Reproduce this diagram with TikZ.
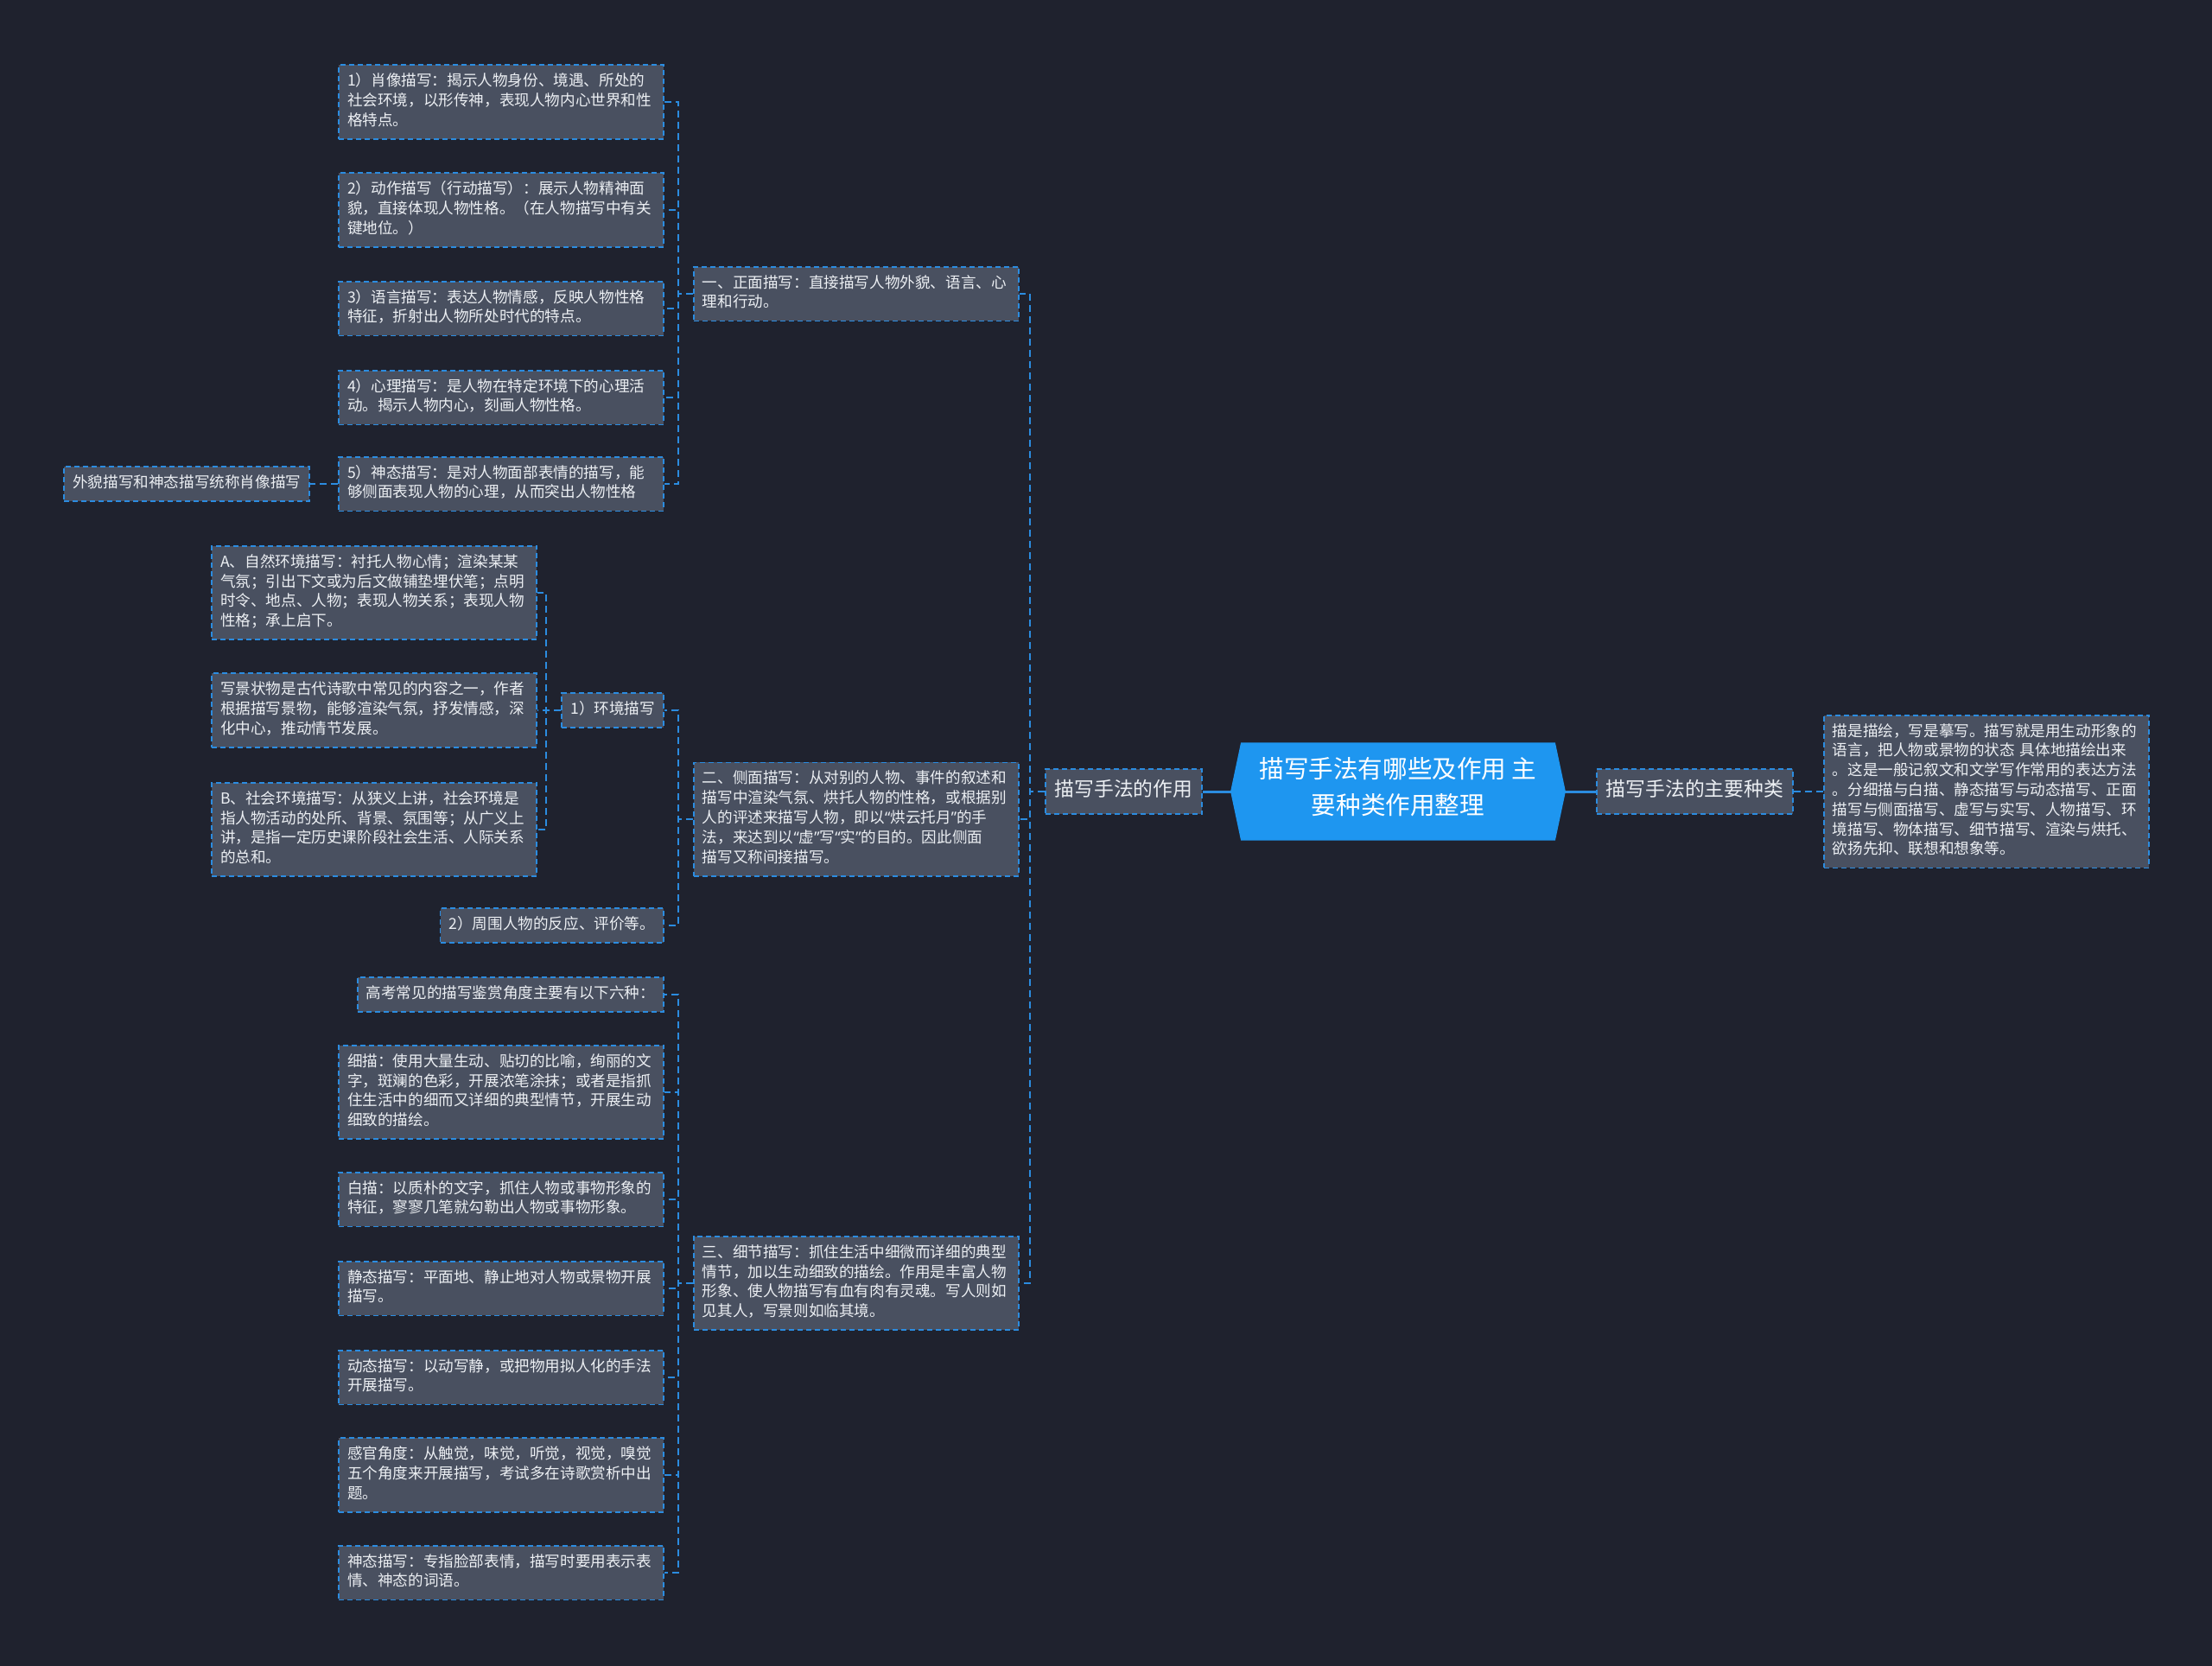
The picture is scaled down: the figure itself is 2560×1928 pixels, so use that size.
\documentclass[tikz,border=0pt]{standalone}
\usepackage{fontspec}
\setmainfont{Noto Sans CJK SC}
\newfontfamily\quotefont{Noto Sans}
\newcommand{\oq}{{\quotefont “}}
\newcommand{\cq}{{\quotefont ”}}
\usetikzlibrary{positioning,backgrounds}
\definecolor{mapbg}{RGB}{31,34,46}
\definecolor{cardgray}{RGB}{73,80,96}
\definecolor{wireblue}{RGB}{43,140,224}
\definecolor{topicblue}{RGB}{30,150,240}
\definecolor{inkwhite}{RGB}{236,239,243}

\begin{document}
\begin{tikzpicture}[x=0.5pt, y=-0.5pt,
  box/.style={draw=wireblue, dash pattern=on 3pt off 2pt, line width=0.9pt, fill=cardgray,
              text=inkwhite, inner xsep=5pt, inner ysep=4.3pt,
              font=\fontsize{8.8}{11.4}\selectfont,
              execute at begin node=\strut, execute at end node=\strut},
  card/.style={box, align=left, text width=178pt},
  chip/.style={box},
  branch/.style={box, font=\fontsize{11.4}{14}\selectfont, inner xsep=5.5pt, inner ysep=6pt},
  topic/.style={text=white, align=center, minimum width=181.5pt, inner ysep=8.5pt,
                font=\fontsize{14.3}{21}\selectfont,
                execute at begin node=\strut, execute at end node=\strut},
  wire/.style={draw=wireblue, line width=1pt, dash pattern=on 4pt off 2.5pt},
  trunk/.style={draw=wireblue, line width=1.5pt}]
% centre and first level
\node[topic] (top) at (1618,916) {描写手法有哪些及作用 主\\要种类作用整理};
\node[branch, left=22pt of top] (zy) {描写手法的作用};
\node[branch, right=23.5pt of top] (zl) {描写手法的主要种类};
\node[card, right=17pt of zl] (sm) {描是描绘，写是摹写。描写就是用生动形象的\\语言，把人物或景物的状态 具体地描绘出来\\。这是一般记叙文和文学写作常用的表达方法\\。分细描与白描、静态描写与动态描写、正面\\描写与侧面描写、虚写与实写、人物描写、环\\境描写、物体描写、细节描写、渲染与烘托、\\欲扬先抑、联想和想象等。};
% 一、正面描写
\node[card, anchor=west] (zm) at (802,340) {一、正面描写：直接描写人物外貌、语言、心\\理和行动。};
\node[card, anchor=east] (b1) at (769,118) {1）肖像描写：揭示人物身份、境遇、所处的\\社会环境，以形传神，表现人物内心世界和性\\格特点。};
\node[card, anchor=east] (b2) at (769,243) {2）动作描写（行动描写）：展示人物精神面\\貌，直接体现人物性格。（在人物描写中有关\\键地位。）};
\node[card, anchor=east] (b3) at (769,357) {3）语言描写：表达人物情感，反映人物性格\\特征，折射出人物所处时代的特点。};
\node[card, anchor=east] (b4) at (769,460) {4）心理描写：是人物在特定环境下的心理活\\动。揭示人物内心，刻画人物性格。};
\node[card, anchor=east] (b5) at (769,560) {5）神态描写：是对人物面部表情的描写，能\\够侧面表现人物的心理，从而突出人物性格};
\node[chip, left=16pt of b5] (wm) {外貌描写和神态描写统称肖像描写};
% 二、侧面描写
\node[card, anchor=west] (cm) at (802,948) {二、侧面描写：从对别的人物、事件的叙述和\\描写中渲染气氛、烘托人物的性格，或根据别\\人的评述来描写人物，即以\oq 烘云托月\cq 的手\\法，来达到以\oq 虚\cq 写\oq 实\cq 的目的。因此侧面\\描写又称间接描写。};
\node[chip, anchor=east] (hj) at (769,822) {1）环境描写};
\node[chip, anchor=east] (zw) at (769,1071) {2）周围人物的反应、评价等。};
\node[card, anchor=east] (na) at (622,686) {A、自然环境描写：衬托人物心情；渲染某某\\气氛；引出下文或为后文做铺垫埋伏笔；点明\\时令、地点、人物；表现人物关系；表现人物\\性格；承上启下。};
\node[card, anchor=east] (xs) at (622,822) {写景状物是古代诗歌中常见的内容之一，作者\\根据描写景物，能够渲染气氛，抒发情感，深\\化中心，推动情节发展。};
\node[card, anchor=east] (nb) at (622,960) {B、社会环境描写：从狭义上讲，社会环境是\\指人物活动的处所、背景、氛围等；从广义上\\讲，是指一定历史课阶段社会生活、人际关系\\的总和。};
% 三、细节描写
\node[card, anchor=west] (xj) at (802,1485) {三、细节描写：抓住生活中细微而详细的典型\\情节，加以生动细致的描绘。作用是丰富人物\\形象、使人物描写有血有肉有灵魂。写人则如\\见其人，写景则如临其境。};
\node[chip, anchor=east] (gk) at (769,1151) {高考常见的描写鉴赏角度主要有以下六种：};
\node[card, anchor=east] (xm) at (769,1264) {细描：使用大量生动、贴切的比喻，绚丽的文\\字，斑斓的色彩，开展浓笔涂抹；或者是指抓\\住生活中的细而又详细的典型情节，开展生动\\细致的描绘。};
\node[card, anchor=east] (bm) at (769,1388) {白描：以质朴的文字，抓住人物或事物形象的\\特征，寥寥几笔就勾勒出人物或事物形象。};
\node[card, anchor=east] (jt) at (769,1491) {静态描写：平面地、静止地对人物或景物开展\\描写。};
\node[card, anchor=east] (dt) at (769,1594) {动态描写：以动写静，或把物用拟人化的手法\\开展描写。};
\node[card, anchor=east] (gg) at (769,1707) {感官角度：从触觉，味觉，听觉，视觉，嗅觉\\五个角度来开展描写，考试多在诗歌赏析中出\\题。};
\node[card, anchor=east] (st) at (769,1820) {神态描写：专指脸部表情，描写时要用表示表\\情、神态的词语。};
% connectors and backdrop
\begin{scope}[on background layer]
\fill[mapbg] (0,0) rectangle (2560,1928);
\foreach \c in {zm,cm,xj} \draw[wire] (zy.west) -- ++(-17,0) |- (\c.east);
\foreach \c in {b1,b2,b3,b4,b5} \draw[wire] (zm.west) -- ++(-17,0) |- (\c.east);
\draw[wire] (b5.west) -- (wm.east);
\foreach \c in {hj,zw} \draw[wire] (cm.west) -- ++(-17,0) |- (\c.east);
\foreach \c in {na,xs,nb} \draw[wire] (hj.west) -- ++(-17,0) |- (\c.east);
\foreach \c in {gk,xm,bm,jt,dt,gg,st} \draw[wire] (xj.west) -- ++(-17,0) |- (\c.east);
\draw[trunk] (zy.east) -- (top.west);
\draw[trunk] (top.east) -- (zl.west);
\draw[wire] (zl.east) -- (sm.west);
\fill[topicblue] (top.north west) -- (top.north east) -- ([xshift=6pt]top.east)
  -- (top.south east) -- (top.south west) -- ([xshift=-6pt]top.west) -- cycle;
\end{scope}
\end{tikzpicture}
\end{document}
